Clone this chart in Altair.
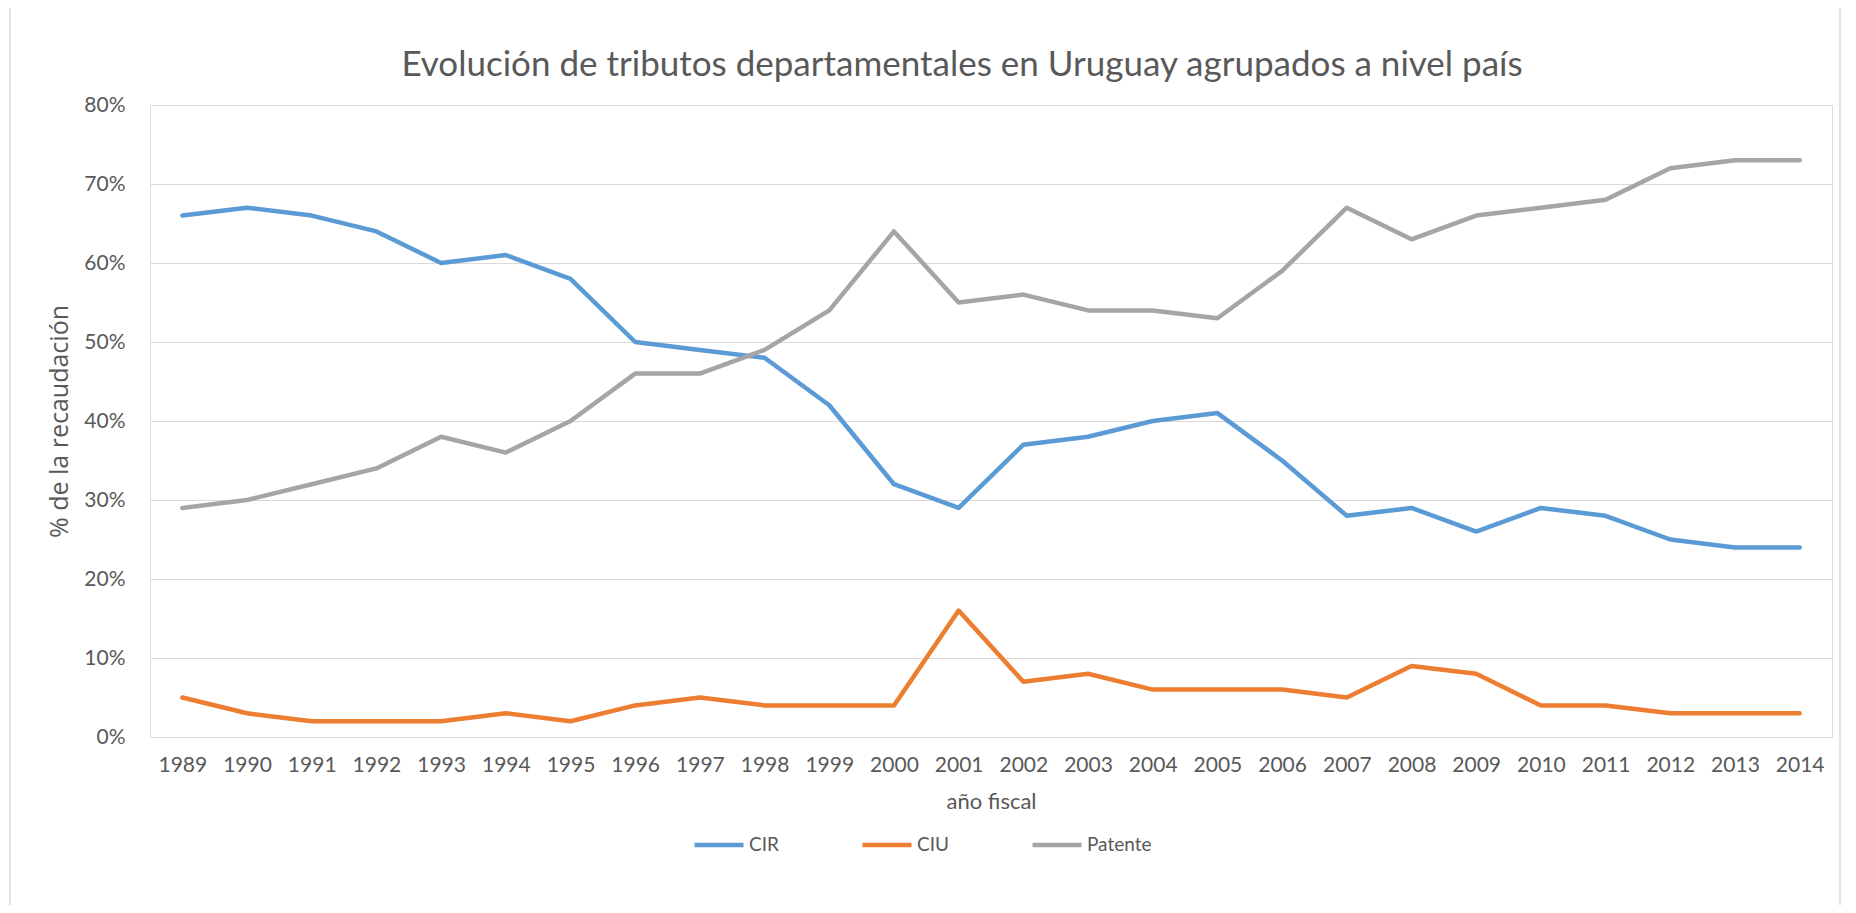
import altair as alt
import pandas as pd

years = [str(y) for y in range(1989, 2015)]
cir = [66, 67, 66, 64, 60, 61, 58, 50, 49, 48, 42, 32, 29, 37, 38, 40, 41, 35, 28, 29, 26, 29, 28, 25, 24, 24]
ciu = [5, 3, 2, 2, 2, 3, 2, 4, 5, 4, 4, 4, 16, 7, 8, 6, 6, 6, 5, 9, 8, 4, 4, 3, 3, 3]
patente = [29, 30, 32, 34, 38, 36, 40, 46, 46, 49, 54, 64, 55, 56, 54, 54, 53, 59, 67, 63, 66, 67, 68, 72, 73, 73]
series_names = ["CIR", "CIU", "Patente"]
series_colors = ["#5B9BD5", "#ED7D31", "#A5A5A5"]
y_ticks = [0, 10, 20, 30, 40, 50, 60, 70, 80]

rows = []
for name, vals in zip(series_names, [cir, ciu, patente]):
    for y, v in zip(years, vals):
        rows.append({"year": y, "serie": name, "value": v})
df = pd.DataFrame(rows)

FONT = "Lato"
GREY = "#595959"
W, H = 1682, 632

lines = alt.Chart(df).mark_line(strokeWidth=4.5, strokeJoin="round", strokeCap="round").encode(
    x=alt.X("year:O", scale=alt.Scale(type="point", padding=0.5),
            axis=alt.Axis(title="año fiscal", labelAngle=0, ticks=False, tickSize=0, domain=False,
                          labelPadding=17, labelFontSize=21, labelColor=GREY, labelFont=FONT,
                          titleFont=FONT, titleFontSize=22, titleFontWeight="normal", titleColor=GREY,
                          titleY=71, titleBaseline="alphabetic", grid=False)),
    y=alt.Y("value:Q", scale=alt.Scale(domain=[0, 80], nice=False),
            axis=alt.Axis(title="% de la recaudación", values=y_ticks, labelExpr="datum.value + '%'",
                          ticks=False, tickSize=0, domain=False, labelPadding=25,
                          labelFontSize=21, labelColor=GREY, labelFont=FONT,
                          gridColor="#D9D9D9", gridWidth=1,
                          titleFont="Open Sans", titleFontSize=25, titleFontWeight="normal", titleColor=GREY,
                          titleX=-91, titleY=H / 2, titleAngle=270, titleBaseline="middle",
                          titleAlign="center")),
    color=alt.Color("serie:N", scale=alt.Scale(domain=series_names, range=series_colors),
                    legend=alt.Legend(title=None, orient="none", direction="horizontal",
                                      legendX=542, legendY=713, symbolType="stroke",
                                      symbolSize=2400, symbolStrokeWidth=4.5, symbolOffset=0,
                                      labelFont=FONT, labelFontSize=19, labelColor=GREY,
                                      labelOffset=3, columnPadding=74)),
)

frame = alt.Chart(pd.DataFrame({"k": [0]})).mark_rect(fill=None, stroke="#D9D9D9", strokeWidth=1.5).encode(
    x=alt.value(-140), x2=alt.value(W + 8), y=alt.value(-98), y2=alt.value(H + 172)
)

chart = alt.layer(frame, lines).properties(
    width=W, height=H,
    title=alt.TitleParams("Evolución de tributos departamentales en Uruguay agrupados a nivel país",
                          font=FONT, fontSize=35, fontWeight="normal", color=GREY,
                          anchor="middle", dx=-29, offset=26, dy=103),
    autosize=alt.AutoSizeParams(type="none"),
    padding={"left": 142, "top": 97, "right": 16, "bottom": 168},
).configure_view(stroke=None).configure(background="white")

chart.save("out.html", embed_options={"renderer": "svg", "actions": False})
